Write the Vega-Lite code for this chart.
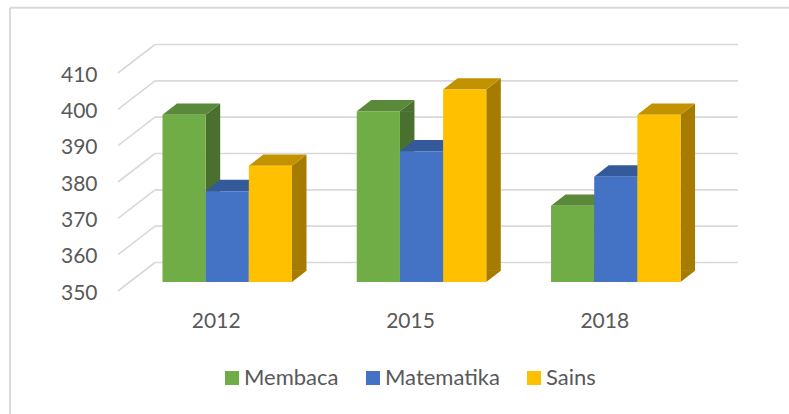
{
"$schema":"https://vega.github.io/schema/vega-lite/v6.json",
"width":620,"height":218,
"autosize":{"type":"none"},
"padding":{"left":118,"top":64,"right":51,"bottom":132},
"background":"white",
"config":{"view":{"stroke":null},"font":"Lato",
 "axisY":{"title":null,"domain":false,"ticks":false,"grid":false,"labelFont":"Lato","labelFontSize":21,"labelColor":"#595959","labelPadding":21,"labelOffset":11}},
"datasets":{
"scores":[
{"year":"2012","subject":"Membaca","score":396},
{"year":"2012","subject":"Matematika","score":375},
{"year":"2012","subject":"Sains","score":382},
{"year":"2015","subject":"Membaca","score":397},
{"year":"2015","subject":"Matematika","score":386},
{"year":"2015","subject":"Sains","score":403},
{"year":"2018","subject":"Membaca","score":371},
{"year":"2018","subject":"Matematika","score":379},
{"year":"2018","subject":"Sains","score":396}],
"ticks":[{"tick":350},{"tick":360},{"tick":370},{"tick":380},{"tick":390},{"tick":400},{"tick":410}]
},
"resolve":{"scale":{"x":"independent"}},
"layer":[
{"data":{"values":[{"frame":"top"}]},
 "mark":{"type":"rule","color":"#d9d9d9","strokeWidth":2},
 "encoding":{
  "x":{"datum":-108,"type":"quantitative","scale":{"domain":[0,620]},"axis":null},
  "x2":{"datum":671},
  "y":{"datum":425.5,"type":"quantitative","scale":{"domain":[350,410]},"title":null,"axis":{"values":[350,360,370,380,390,400,410]}}}},
{"data":{"values":[{"frame":"left"}]},
 "mark":{"type":"rule","color":"#d9d9d9","strokeWidth":2},
 "encoding":{
  "x":{"datum":-108,"type":"quantitative","scale":{"domain":[0,620]},"axis":null},
  "y":{"datum":425.5,"type":"quantitative","scale":{"domain":[350,410]},"title":null,"axis":{"values":[350,360,370,380,390,400,410]}},
  "y2":{"datum":313}}},
{"data":{"name":"ticks"},
 "mark":{"type":"rule","color":"#d9d9d9","strokeWidth":1.6,"yOffset":9,"y2Offset":-19.5},
 "encoding":{
  "x":{"datum":0,"type":"quantitative","scale":{"domain":[0,620]},"axis":null},
  "x2":{"datum":37},
  "y":{"field":"tick","type":"quantitative","scale":{"domain":[350,410]},"title":null,"axis":{"values":[350,360,370,380,390,400,410]}},
  "y2":{"field":"tick"}}},
{"data":{"name":"ticks"},
 "mark":{"type":"rule","color":"#d9d9d9","strokeWidth":1.6,"yOffset":-19.5},
 "encoding":{
  "x":{"datum":37,"type":"quantitative","scale":{"domain":[0,620]},"axis":null},
  "x2":{"datum":620},
  "y":{"field":"tick","type":"quantitative","scale":{"domain":[350,410]},"title":null,"axis":{"values":[350,360,370,380,390,400,410]}}}},
{"data":{"name":"scores"},
 "resolve":{"scale":{"color":"independent","xOffset":"independent"}},
 "encoding":{
  "x":{"field":"year","type":"nominal","scale":{"type":"band","domain":["2012","2015","2018"],"range":[12.1,594.9],"paddingInner":0,"paddingOuter":0},
    "axis":{"title":null,"orient":"bottom","domain":false,"ticks":false,"grid":false,"labelAngle":0,"labelFont":"Lato","labelFontSize":21,"labelColor":"#595959","labelPadding":28,"labelOffset":-11}},
  "xOffset":{"field":"subject","type":"nominal","scale":{"type":"band","domain":["Membaca","Matematika","Sains"],"range":[32.4,161.9],"paddingInner":0,"paddingOuter":0}},
  "y":{"field":"score","type":"quantitative","scale":{"domain":[350,410]},"title":null,"axis":{"values":[350,360,370,380,390,400,410]}}
 },
 "layer":[
 {"mark":{"type":"rule","strokeWidth":14.5,"y2Offset":-11.3},
  "encoding":{
   "xOffset":{"field":"subject","type":"nominal","scale":{"type":"band","domain":["Membaca","Matematika","Sains"],"range":[61.25,190.75],"paddingInner":0,"paddingOuter":0}},
   "y2":{"datum":350},
   "color":{"field":"subject","type":"nominal","scale":{"domain":["Membaca","Matematika","Sains"],"range":["#49702e","#2c4a7f","#a67c00"]},"legend":null}}},
 {"mark":{"type":"point","filled":true,"opacity":1,"size":4,"shape":"M21.6,0L36.1,-11.3L36.1,0.5L21.6,0.5Z"},
  "encoding":{
   "color":{"field":"subject","type":"nominal","scale":{"domain":["Membaca","Matematika","Sains"],"range":["#49702e","#2c4a7f","#a67c00"]},"legend":null}}},
 {"mark":{"type":"point","filled":true,"opacity":1,"size":4,"shape":"M21.6,0L21.6,-11.8L36.1,-11.8L36.1,-11.3Z"},
  "encoding":{
   "y":{"datum":350,"type":"quantitative","scale":{"domain":[350,410]},"title":null,"axis":{"values":[350,360,370,380,390,400,410]}},
   "color":{"field":"subject","type":"nominal","scale":{"domain":["Membaca","Matematika","Sains"],"range":["#49702e","#2c4a7f","#a67c00"]},"legend":null}}},
 {"mark":{"type":"point","filled":true,"opacity":1,"size":4,"shape":"M-21.6,0L21.6,0L36.1,-11.3L-7.1,-11.3Z"},
  "encoding":{
   "color":{"field":"subject","type":"nominal","scale":{"domain":["Membaca","Matematika","Sains"],"range":["#5a8a39","#355a9c","#c29200"]},"legend":null}}},
 {"mark":{"type":"bar"},
  "encoding":{
   "y2":{"datum":350},
   "color":{"field":"subject","type":"nominal","scale":{"domain":["Membaca","Matematika","Sains"],"range":["#70ad47","#4472c4","#ffc000"]},
    "legend":{"title":null,"orient":"none","legendX":103,"legendY":303,"direction":"horizontal","columns":3,"symbolType":"square","symbolSize":196,"symbolStrokeWidth":0,"labelFont":"Lato","labelFontSize":22,"labelColor":"#595959","columnPadding":23,"labelOffset":1}}}}
 ]}
]}
